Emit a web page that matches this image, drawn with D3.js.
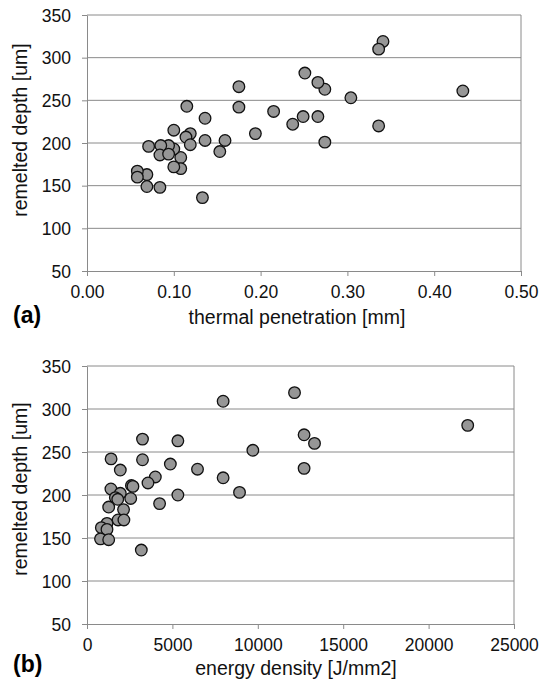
<!DOCTYPE html>
<html>
<head>
<meta charset="utf-8">
<script src="https://cdnjs.cloudflare.com/ajax/libs/d3/7.8.5/d3.min.js"></script>
<style>
	html, body { margin: 0; padding: 0; background: #fff; }
	svg { display: block; font-family: "Liberation Sans", Arial, sans-serif; }
</style>
</head>
<body>
<svg id="chart" width="541" height="687"></svg>
<script>
// panel (a): thermal penetration vs remelted depth
var thermalPen = [0.341, 0.336, 0.433, 0.336, 0.304, 0.274, 0.266, 0.251, 0.249, 0.266,
	0.237, 0.274, 0.215, 0.194, 0.175, 0.175, 0.159, 0.153, 0.136, 0.136,
	0.133, 0.115, 0.119, 0.114, 0.119, 0.108, 0.108, 0.100, 0.100, 0.100,
	0.094, 0.085, 0.084, 0.094, 0.084, 0.071, 0.069, 0.069, 0.058, 0.058];
var depthA = [319, 310, 261, 220, 253, 263, 271, 282, 231, 231,
	222, 201, 237, 211, 266, 242, 203, 190, 229, 203,
	136, 243, 211, 207, 198, 183, 170, 215, 193, 172,
	197, 197, 186, 187, 148, 196, 163, 149, 167, 160];

// panel (b): energy density vs remelted depth
var energyDens = [12150, 7970, 22290, 12710, 3250, 5320, 13320, 9710, 1410, 3250,
	4880, 6470, 12710, 1950, 4000, 7970, 3570, 2600, 2690, 1400,
	8930, 5320, 1950, 1660, 1800, 2560, 4250, 1270, 2140, 1820,
	2160, 1170, 840, 1170, 790, 1270, 3180];
var depthB = [319, 309, 281, 270, 265, 263, 260, 252, 242, 241,
	236, 230, 231, 229, 221, 220, 214, 211, 210, 207,
	203, 200, 202, 197, 195, 196, 190, 186, 183, 171,
	171, 167, 162, 160, 149, 148, 136];

var depthTicks = [50, 100, 150, 200, 250, 300, 350];
var penTicks = [0, 0.1, 0.2, 0.3, 0.4, 0.5];
var energyTicks = [0, 5000, 10000, 15000, 20000, 25000];

var svg = d3.select("#chart");
var lineCol = "#8a8a8a";

function drawPanel(p) {
	var x = d3.scaleLinear().domain([p.xTicks[0], p.xTicks[p.xTicks.length - 1]]).range([p.left, p.right]);
	var y = d3.scaleLinear().domain([50, 350]).range([p.bottom, p.top]);
	var g = svg.append("g");

	// horizontal grid lines
	g.append("g")
		.selectAll("line")
		.data(depthTicks.slice(1))
		.enter().append("line")
		.attr("x1", p.left)
		.attr("x2", p.right)
		.attr("y1", function(d) { return y(d); })
		.attr("y2", function(d) { return y(d); })
		.attr("stroke", lineCol)
		.attr("stroke-width", 1);

	// right border
	g.append("line")
		.attr("x1", p.right).attr("x2", p.right)
		.attr("y1", p.top).attr("y2", p.bottom)
		.attr("stroke", lineCol);

	var xAxis = g.append("g")
		.attr("transform", "translate(0," + p.bottom + ")")
		.call(d3.axisBottom(x).tickValues(p.xTicks).tickFormat(p.fmt).tickSizeInner(5).tickSizeOuter(0).tickPadding(5));
	var yAxis = g.append("g")
		.attr("transform", "translate(" + p.left + ",0)")
		.call(d3.axisLeft(y).tickValues(depthTicks).tickSizeInner(5).tickSizeOuter(0).tickPadding(11));

	[xAxis, yAxis].forEach(function(a) {
		a.select(".domain").attr("stroke", lineCol);
		a.selectAll(".tick line").attr("stroke", lineCol);
		a.selectAll(".tick text")
			.attr("fill", "#111")
			.style("font-size", "17.5px")
			.style("font-family", "'Liberation Sans', Arial, sans-serif");
	});
	xAxis.selectAll(".tick text").attr("dy", null).attr("y", 27);
	yAxis.selectAll(".tick text").attr("dy", "0.36em");

	// markers
	g.append("g")
		.selectAll("circle")
		.data(p.xs.map(function(v, i) { return [v, p.ys[i]]; }))
		.enter().append("circle")
		.attr("cx", function(d) { return x(d[0]); })
		.attr("cy", function(d) { return y(d[1]); })
		.attr("r", 5.8)
		.attr("fill", "#969696")
		.attr("stroke", "#111")
		.attr("stroke-width", 1.3);

	g.append("text")
		.attr("x", p.xTitleX)
		.attr("y", p.xTitleY)
		.attr("text-anchor", "middle")
		.style("font-size", "19.5px")
		.attr("fill", "#111")
		.text(p.xTitle);

	g.append("text")
		.attr("transform", "translate(27," + p.yTitleY + ") rotate(-90)")
		.attr("text-anchor", "middle")
		.style("font-size", "19.5px")
		.attr("fill", "#111")
		.text("remelted depth [um]");

	g.append("text")
		.attr("x", 13)
		.attr("y", p.tagY)
		.style("font-size", "23px")
		.style("font-weight", "bold")
		.attr("fill", "#000")
		.text(p.tag);
}

drawPanel({
	xs: thermalPen, ys: depthA, xTicks: penTicks, fmt: d3.format(".2f"),
	left: 87, right: 521, top: 15, bottom: 271,
	xTitle: "thermal penetration [mm]", xTitleX: 297, xTitleY: 324,
	yTitleY: 130, tag: "(a)", tagY: 323
});

drawPanel({
	xs: energyDens, ys: depthB, xTicks: energyTicks, fmt: d3.format("d"),
	left: 87, right: 514, top: 366, bottom: 624,
	xTitle: "energy density [J/mm2]", xTitleX: 296, xTitleY: 675,
	yTitleY: 489, tag: "(b)", tagY: 672
});
</script>
</body>
</html>
